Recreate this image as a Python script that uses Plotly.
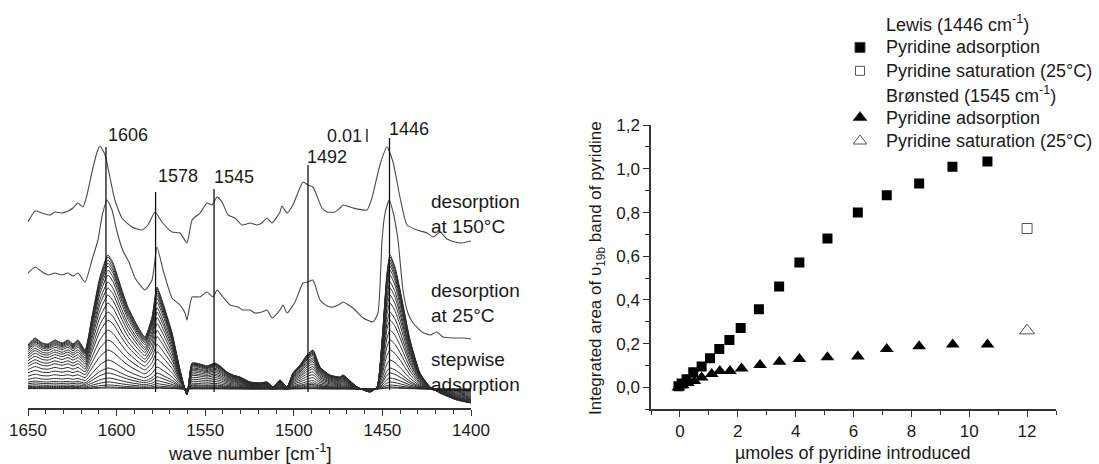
import plotly.graph_objects as go

# ---------------- Left panel: IR spectra (absorbance, arbitrary offset units; 13 units = 0.01) -------------
WN_150 = [1650, 1646, 1642, 1637.6, 1634.8, 1630.8, 1627.4, 1624.6, 1621.8, 1619, 1616.7, 1613.9, 1611, 1609.4,
          1606.5, 1603.7, 1601, 1597, 1591.3, 1585.7, 1582.3, 1578.3, 1574.4, 1568.7, 1564.2, 1560.3, 1557.4,
          1552.9, 1549, 1546.2, 1543.3, 1540.5, 1537.1, 1533.2, 1529.2, 1524.7, 1520.8, 1518, 1515.1, 1512.3,
          1507.8, 1506.7, 1503.8, 1500.5, 1494.8, 1492, 1489.2, 1484.1, 1481.3, 1476.8, 1473.9, 1472.2, 1466.6,
          1458.7, 1455.9, 1451.4, 1447.4, 1444, 1440, 1436.1, 1430.5, 1424.8, 1421.4, 1417.5, 1413.5, 1409,
          1405.1, 1400]
ABS_150 = [186, 197, 195, 193, 196, 195, 197, 200, 205, 201, 213, 236, 256, 262, 253, 230, 208, 190, 181, 178,
           183, 196, 186, 176, 175, 165, 188, 195, 205, 203, 211, 206, 193, 190, 183, 185, 183, 185, 190, 185,
           196, 202, 195, 203, 226, 223, 221, 200, 196, 196, 200, 203, 200, 198, 210, 243, 261, 246, 210, 183,
           178, 175, 171, 176, 169, 166, 165, 167]

WN_25 = [1650, 1646, 1642, 1638.7, 1634.8, 1630.8, 1627.4, 1624.6, 1621.8, 1617.8, 1613.9, 1610.5, 1608.2,
         1605.4, 1602.6, 1600, 1596.4, 1593, 1589.6, 1584, 1580, 1577.2, 1573.8, 1568.7, 1564.2, 1561.4, 1560.3,
         1557.4, 1552.9, 1549, 1545.6, 1543.3, 1540, 1536, 1531.5, 1528.7, 1524.7, 1521.9, 1518, 1515.1, 1512.3,
         1507.8, 1506.1, 1503.8, 1499.3, 1494.8, 1492, 1489.2, 1485.2, 1481.3, 1477.9, 1473.9, 1472.2, 1466.6,
         1460.9, 1455.3, 1452.5, 1450.2, 1448.5, 1446.2, 1444, 1441.2, 1438.4, 1435.6, 1432.7, 1427.7, 1423.1,
         1419.2, 1415.8, 1410.2, 1404.5, 1400]
ABS_25 = [135, 141, 136, 133, 135, 133, 135, 132, 135, 126, 148, 168, 192, 208, 198, 178, 157, 146, 130, 118,
          128, 161, 138, 110, 103, 95, 88, 111, 111, 116, 111, 118, 111, 103, 101, 98, 98, 95, 96, 98, 90, 98,
          103, 95, 106, 125, 126, 128, 108, 102, 101, 104, 106, 100, 90, 86, 95, 168, 195, 208, 196, 168, 118,
          95, 85, 76, 73, 76, 71, 70, 70, 69]

# final (highest coverage) spectrum of the stepwise adsorption series
WN_STEP = [1650, 1646, 1642, 1638.7, 1634.8, 1630.8, 1627.4, 1624.6, 1621.8, 1617.8, 1613.9, 1609.4, 1604.9,
           1602, 1597, 1593.6, 1587.9, 1584, 1580, 1577.2, 1574.4, 1568.7, 1564.2, 1560.3, 1557.4, 1552.9, 1549,
           1544.5, 1541.6, 1537.7, 1534.3, 1530.4, 1524.7, 1519.1, 1515.1, 1511.7, 1507.8, 1503.8, 1500.5, 1496.5,
           1492.6, 1489.2, 1485.2, 1479.6, 1473.9, 1472.2, 1464.3, 1457, 1453, 1450.2, 1447.4, 1445.7, 1442.9,
           1440, 1434.4, 1428.8, 1423.1, 1417.5, 1408.1, 1400]
ABS_STEP = [63, 70, 65, 64, 68, 65, 68, 64, 68, 58, 91, 131, 153, 145, 118, 101, 81, 71, 91, 121, 108, 75, 38,
            13, 45, 44, 42, 45, 42, 36, 33, 31, 26, 25, 26, 21, 28, 21, 35, 43, 53, 58, 41, 33, 31, 33, 21, 16,
            21, 68, 135, 153, 141, 118, 68, 35, 21, 15, 8, 5]
STEP_BASE = 19
# height at 1606 cm-1 of each spectrum of the stepwise series (last dose first)
STEP_PEAK_1606 = [153, 151, 148, 145, 142, 138, 133, 126, 120, 113, 105, 96, 88, 78, 68, 58, 48, 40, 35, 30,
                  26, 23, 21, 20]

PEAK_WN = [1606, 1578, 1545, 1492, 1446]
PEAK_LABELS = ["1606", "1578", "1545", "1492", "1446"]
PEAK_LINE_TOP = [261, 216, 219, 243, 270]
PEAK_LINE_BOTTOM = [21, 16, 16, 16, 18]
PEAK_LABEL_X = [1606, 1578, 1546, 1493.7, 1447.4]
PEAK_LABEL_Y = [273, 232, 231, 251, 279]
SCALE_BAR_WN = 1458.7
SCALE_BAR = [266, 279]  # 0.01 absorbance

WN_TICKS = [1650, 1600, 1550, 1500, 1450, 1400]

# ---------------- Right panel: integrated areas -------------
LEWIS_X = [-0.05, 0.06, 0.23, 0.46, 0.75, 1.04, 1.36, 1.71, 2.10, 2.73, 3.43, 4.13, 5.10, 6.15, 7.15, 8.27,
           9.42, 10.63]
LEWIS_Y = [0.005, 0.018, 0.038, 0.069, 0.096, 0.133, 0.176, 0.217, 0.272, 0.358, 0.462, 0.572, 0.681, 0.800,
           0.879, 0.933, 1.009, 1.033]
LEWIS_SAT_X = [12.0]
LEWIS_SAT_Y = [0.727]
BRON_X = [-0.05, 0.1, 0.27, 0.5, 0.75, 1.1, 1.38, 1.73, 2.13, 2.77, 3.44, 4.13, 5.10, 6.15, 7.15, 8.27, 9.43,
          10.63]
BRON_Y = [0.0, 0.01, 0.02, 0.03, 0.045, 0.061, 0.075, 0.075, 0.087, 0.103, 0.118, 0.130, 0.138, 0.141, 0.176,
          0.188, 0.196, 0.196]
BRON_SAT_X = [12.0]
BRON_SAT_Y = [0.26]

Y2_TICKS = [0.0, 0.2, 0.4, 0.6, 0.8, 1.0, 1.2]
Y2_TICKTEXT = ["0,0", "0,2", "0,4", "0,6", "0,8", "1,0", "1,2"]
X2_TICKS = [0, 2, 4, 6, 8, 10, 12]

LEGEND_TEXT = ["Lewis (1446 cm<sup>-1</sup>)", "Pyridine adsorption", "Pyridine saturation (25°C)",
               "Brønsted (1545 cm<sup>-1</sup>)", "Pyridine adsorption", "Pyridine saturation (25°C)"]
LEGEND_SYMBOL = [None, "square", "square-open", None, "triangle-up", "triangle-up-open"]

# ---------------- figure -------------
W, H = 1099, 464
FONT = "Liberation Sans, Arial, sans-serif"
TXT = "#1a1a1a"
AX = "#333333"


def px_x(p):
    return p / W


def px_y(p):
    return (H - p) / H


fig = go.Figure()

# stepwise adsorption spectra
top_h = STEP_PEAK_1606[0] - STEP_BASE
for h in reversed(STEP_PEAK_1606):
    f = (h - STEP_BASE) / top_h
    ys = [STEP_BASE + f * (v - STEP_BASE) for v in ABS_STEP]
    fig.add_trace(go.Scatter(x=WN_STEP, y=ys, mode="lines",
                             line=dict(color="#2b2b2b", width=1, shape="spline", smoothing=0.5),
                             xaxis="x", yaxis="y", showlegend=False, hoverinfo="skip"))

for wn, ab in [(WN_25, ABS_25), (WN_150, ABS_150)]:
    fig.add_trace(go.Scatter(x=wn, y=ab, mode="lines",
                             line=dict(color="#4a4a4a", width=1.1, shape="spline", smoothing=0.5),
                             xaxis="x", yaxis="y", showlegend=False, hoverinfo="skip"))

# vertical marker lines
vx, vy = [], []
for w, t, b in zip(PEAK_WN, PEAK_LINE_TOP, PEAK_LINE_BOTTOM):
    vx += [w, w, None]
    vy += [b, t, None]
vx += [SCALE_BAR_WN, SCALE_BAR_WN, None]
vy += [SCALE_BAR[0], SCALE_BAR[1], None]
fig.add_trace(go.Scatter(x=vx, y=vy, mode="lines", line=dict(color="#111111", width=1.3),
                         xaxis="x", yaxis="y", showlegend=False, hoverinfo="skip"))

# right panel scatter
fig.add_trace(go.Scatter(x=BRON_X, y=BRON_Y, mode="markers",
                         marker=dict(symbol="triangle-up", size=12, color="#000000"),
                         xaxis="x2", yaxis="y2", showlegend=False))
fig.add_trace(go.Scatter(x=LEWIS_X, y=LEWIS_Y, mode="markers",
                         marker=dict(symbol="square", size=10, color="#000000"),
                         xaxis="x2", yaxis="y2", showlegend=False))
fig.add_trace(go.Scatter(x=LEWIS_SAT_X, y=LEWIS_SAT_Y, mode="markers",
                         marker=dict(symbol="square-open", size=10, color="#555555", line=dict(width=1)),
                         xaxis="x2", yaxis="y2", showlegend=False))
fig.add_trace(go.Scatter(x=BRON_SAT_X, y=BRON_SAT_Y, mode="markers",
                         marker=dict(symbol="triangle-up-open", size=13, color="#555555", line=dict(width=1)),
                         xaxis="x2", yaxis="y2", showlegend=False))

# legend keys (hidden axis, one row per legend line)
LEG_ROWS = list(range(len(LEGEND_TEXT)))
sym_sizes = {"square": 10, "square-open": 9, "triangle-up": 12, "triangle-up-open": 12}
sym_colors = {"square": "#000000", "square-open": "#555555", "triangle-up": "#000000",
              "triangle-up-open": "#555555"}
for r, s in zip(LEG_ROWS, LEGEND_SYMBOL):
    if s is None:
        continue
    fig.add_trace(go.Scatter(x=[0.5], y=[r], mode="markers",
                             marker=dict(symbol=s, size=sym_sizes[s], color=sym_colors[s], line=dict(width=1)),
                             xaxis="x3", yaxis="y3", showlegend=False, hoverinfo="skip"))

annotations = []
for lbl, x, y in zip(PEAK_LABELS, PEAK_LABEL_X, PEAK_LABEL_Y):
    annotations.append(dict(x=x, y=y, xref="x", yref="y", text=lbl, showarrow=False, xanchor="left",
                            yanchor="middle", font=dict(size=18, color=TXT, family=FONT)))
annotations.append(dict(x=SCALE_BAR_WN + 1.5, y=sum(SCALE_BAR) / 2, xref="x", yref="y", text="0.01",
                        showarrow=False, xanchor="right", yanchor="middle",
                        font=dict(size=18, color=TXT, family=FONT)))
for txt, yc in [("desorption<br>at 150°C", 214), ("desorption<br>at 25°C", 303),
                ("stepwise<br>adsorption", 372)]:
    annotations.append(dict(x=px_x(429), y=px_y(yc), xref="paper", yref="paper", text=txt, showarrow=False,
                            xanchor="left", yanchor="middle", align="left",
                            font=dict(size=19, color=TXT, family=FONT)))
annotations.append(dict(x=px_x(250), y=px_y(452), xref="paper", yref="paper",
                        text="wave number [cm<sup>-1</sup>]", showarrow=False, xanchor="center",
                        yanchor="middle", font=dict(size=18.5, color=TXT, family=FONT)))
annotations.append(dict(x=px_x(853), y=px_y(453), xref="paper", yref="paper",
                        text="\u00b5moles of pyridine introduced", showarrow=False, xanchor="center",
                        yanchor="middle", font=dict(size=18, color=TXT, family=FONT)))
annotations.append(dict(x=px_x(597), y=px_y(268), xref="paper", yref="paper",
                        text="Integrated area of \u03c5<sub>19b</sub> band of pyridine", showarrow=False,
                        textangle=-90, xanchor="center", yanchor="middle",
                        font=dict(size=17, color=TXT, family=FONT)))
LEG_TOP, LEG_BOTTOM = 24, 141
leg_step = (LEG_BOTTOM - LEG_TOP) / (len(LEGEND_TEXT) - 1)
for r, txt in zip(LEG_ROWS, LEGEND_TEXT):
    annotations.append(dict(x=px_x(884), y=px_y(LEG_TOP + r * leg_step), xref="paper", yref="paper",
                            text=txt, showarrow=False, xanchor="left", yanchor="middle",
                            font=dict(size=18, color=TXT, family=FONT)))

axis_font = dict(size=17, color=TXT, family=FONT)

fig.update_layout(
    width=W, height=H, autosize=False,
    margin=dict(l=0, r=0, t=0, b=0),
    paper_bgcolor="white", plot_bgcolor="white",
    font=dict(family=FONT, color=TXT),
    annotations=annotations,
    xaxis=dict(domain=[px_x(28), px_x(471)], range=[1650, 1400], anchor="y",
               showline=True, linecolor=AX, linewidth=1.5, mirror=False, showgrid=False, zeroline=False,
               ticks="outside", ticklen=6, tickwidth=1.3, tickcolor=AX,
               tickmode="array", tickvals=WN_TICKS, tickfont=axis_font, automargin=False,
               minor=dict(ticks="outside", dtick=10, tick0=1400, ticklen=4, tickwidth=1.1, tickcolor=AX)),
    yaxis=dict(domain=[px_y(408), px_y(120)], range=[0, 288], visible=False, anchor="x"),
    xaxis2=dict(domain=[px_x(651), px_x(1056)], range=[-1, 13], anchor="y2",
                showline=True, linecolor=AX, linewidth=1.5, showgrid=False, zeroline=False,
                ticks="outside", ticklen=6, tickwidth=1.3, tickcolor=AX,
                tickmode="array", tickvals=X2_TICKS, tickfont=axis_font, automargin=False,
                minor=dict(ticks="outside", dtick=1, tick0=1, ticklen=4, tickwidth=1.1, tickcolor=AX)),
    yaxis2=dict(domain=[px_y(409.3), px_y(125.1)], range=[-0.1, 1.2], anchor="x2",
                showline=True, linecolor=AX, linewidth=1.5, showgrid=False, zeroline=False,
                ticks="outside", ticklen=6, tickwidth=1.3, tickcolor=AX,
                tickmode="array", tickvals=Y2_TICKS, ticktext=Y2_TICKTEXT, tickfont=axis_font,
                automargin=False,
                minor=dict(ticks="outside", dtick=0.1, tick0=0.1, ticklen=4, tickwidth=1.1, tickcolor=AX)),
    xaxis3=dict(domain=[px_x(850), px_x(870)], range=[0, 1], visible=False, anchor="y3"),
    yaxis3=dict(domain=[px_y(LEG_BOTTOM + leg_step / 2), px_y(LEG_TOP - leg_step / 2)],
                range=[len(LEGEND_TEXT) - 0.5, -0.5], visible=False, anchor="x3"),
)

fig.write_html("out.html", config={"displayModeBar": False},
               post_script="document.body.style.margin='0';document.body.style.padding='0';"
                           "document.body.style.overflow='hidden';")
